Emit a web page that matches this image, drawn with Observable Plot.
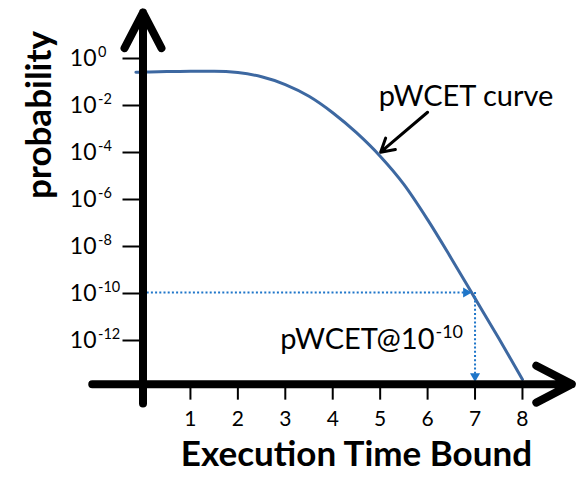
<!DOCTYPE html>
<html>
<head>
<meta charset="utf-8">
<script src="https://cdn.jsdelivr.net/npm/d3@7"></script>
<script src="https://cdn.jsdelivr.net/npm/@observablehq/plot@0.6"></script>
<style>
  body { margin: 0; background: #fff; }
  #chart svg { display: block; }
</style>
</head>
<body>
<div id="chart"></div>
<script>
// ---- data ----
const execTime = [-0.15, 0, 0.5, 1, 1.5, 2, 2.5, 3, 3.5, 4, 4.5, 5, 5.5, 6, 6.5, 7, 7.5, 8];
const log10Prob = [-0.63, -0.62, -0.60, -0.58, -0.58, -0.64, -0.82, -1.15, -1.65, -2.35, -3.2, -4.2, -5.4, -6.9, -8.55, -10.25, -11.95, -13.7];
const xTicks = [1, 2, 3, 4, 5, 6, 7, 8];
const yTickExponents = [0, -2, -4, -6, -8, -10, -12];
const pwcetTime = 7;
const pwcetExponent = -10;
const xTitle = "Execution Time Bound";
const yTitle = "probability";
const curveNote = "pWCET curve";
const pwcetNote = "pWCET@10";
const pwcetNoteSup = "-10";

// axis frame (data coordinates)
const baseExp = -13.9;             // where the x axis crosses
const topExp = 2;
const xAxisExtent = [-1.07, 9.04];
const yAxisExtentExp = [-14.72, 1.91];

// annotation anchors (data coordinates)
const curveNotePos = {x: 4.97, exp: -1.66};
const curveArrow = {x1: 6.0, e1: -2.33, x2: 5.01, e2: -4.03};
const pwcetNotePos = {x: 6.145, exp: -12.03};

// ---- derived tables ----
const curve = execTime.map((t, i) => ({t, p: 10 ** log10Prob[i]}));
const yTicks = yTickExponents.map(e => ({v: 10 ** e, sup: String(e)}));
const baseP = 10 ** baseExp;
const pwcetP = 10 ** pwcetExponent;

const curveColor = "#3d68a1";
const dotColor = "#1f76c9";
const font = "Lato, 'Open Sans', sans-serif";

const chart = Plot.plot({
  width: 578,
  height: 480,
  marginLeft: 142.5,
  marginRight: 8.6,
  marginTop: 10,
  marginBottom: 96.35,
  x: {domain: [0, 9], axis: null},
  y: {type: "log", domain: [baseP, 10 ** topExp], axis: null},
  style: {fontFamily: font, background: "#fff", color: "#000"},
  marks: [
    // pWCET curve
    Plot.line(curve, {x: "t", y: "p", stroke: curveColor, strokeWidth: 3, curve: "monotone-x"}),
    // dotted guides
    Plot.ruleY([pwcetP], {x1: 0, x2: pwcetTime, stroke: dotColor, strokeWidth: 2, strokeDasharray: "2,2.2", insetRight: 8}),
    Plot.ruleX([pwcetTime], {y1: pwcetP, y2: baseP, stroke: dotColor, strokeWidth: 2, strokeDasharray: "2,2.2", insetBottom: 8}),
    Plot.dot([{x: pwcetTime, y: pwcetP}], {x: "x", y: "y", symbol: "triangle2", r: 4.8, rotate: 90, fill: dotColor, stroke: null, dx: -9}),
    Plot.dot([{x: pwcetTime, y: baseP}], {x: "x", y: "y", symbol: "triangle2", r: 4.8, rotate: 180, fill: dotColor, stroke: null, dy: -8}),
    // ticks and tick labels
    Plot.axisX({ticks: xTicks, tickSize: 16, tickPadding: 11, fontSize: 21, strokeWidth: 2, label: null, tickFormat: d => String(d)}),
    Plot.axisY({ticks: yTicks.map(d => d.v), tickSize: 20, tickPadding: 26.5, fontSize: 23, strokeWidth: 2, label: null, tickFormat: () => "10", dy: 1}),
    Plot.text(yTicks, {y: "v", text: "sup", frameAnchor: "left", textAnchor: "start", dx: -45, dy: -5.5, fontSize: 14.5, fill: "#000"}),
    // thick axes with open arrowheads
    Plot.arrow([
      {x1: xAxisExtent[0], y1: baseP, x2: xAxisExtent[1], y2: baseP},
      {x1: 0, y1: 10 ** yAxisExtentExp[0], x2: 0, y2: 10 ** yAxisExtentExp[1]}
    ], {x1: "x1", y1: "y1", x2: "x2", y2: "y2", stroke: "#000", strokeWidth: 8, headLength: 7.5, headAngle: 55, strokeLinecap: "round", strokeLinejoin: "round"}),
    // annotation arrow + labels
    Plot.arrow([{x1: curveArrow.x1, y1: 10 ** curveArrow.e1, x2: curveArrow.x2, y2: 10 ** curveArrow.e2}],
      {x1: "x1", y1: "y1", x2: "x2", y2: "y2", stroke: "#000", strokeWidth: 3, headLength: 7.5, headAngle: 60}),
    Plot.text([curveNote], {x: curveNotePos.x, y: 10 ** curveNotePos.exp, text: d => d, textAnchor: "start", fontSize: 29, fill: "#000"}),
    Plot.text([pwcetNote], {x: pwcetNotePos.x, y: 10 ** pwcetNotePos.exp, text: d => d, textAnchor: "end", fontSize: 29, fill: "#000"}),
    Plot.text([pwcetNoteSup], {x: pwcetNotePos.x, y: 10 ** pwcetNotePos.exp, text: d => d, textAnchor: "start", fontSize: 18, dx: 1, dy: -7.5, fill: "#000"}),
    // axis titles
    Plot.text([xTitle], {frameAnchor: "bottom", text: d => d, fontSize: 35, fontWeight: "bold", dy: 82.2, fill: "#000"}),
    Plot.text([yTitle], {frameAnchor: "left", text: d => d, fontSize: 35, fontWeight: "bold", rotate: -90, dx: -103.7, dy: 1.7, fill: "#000"})
  ]
});
document.getElementById("chart").appendChild(chart);
</script>
</body>
</html>
